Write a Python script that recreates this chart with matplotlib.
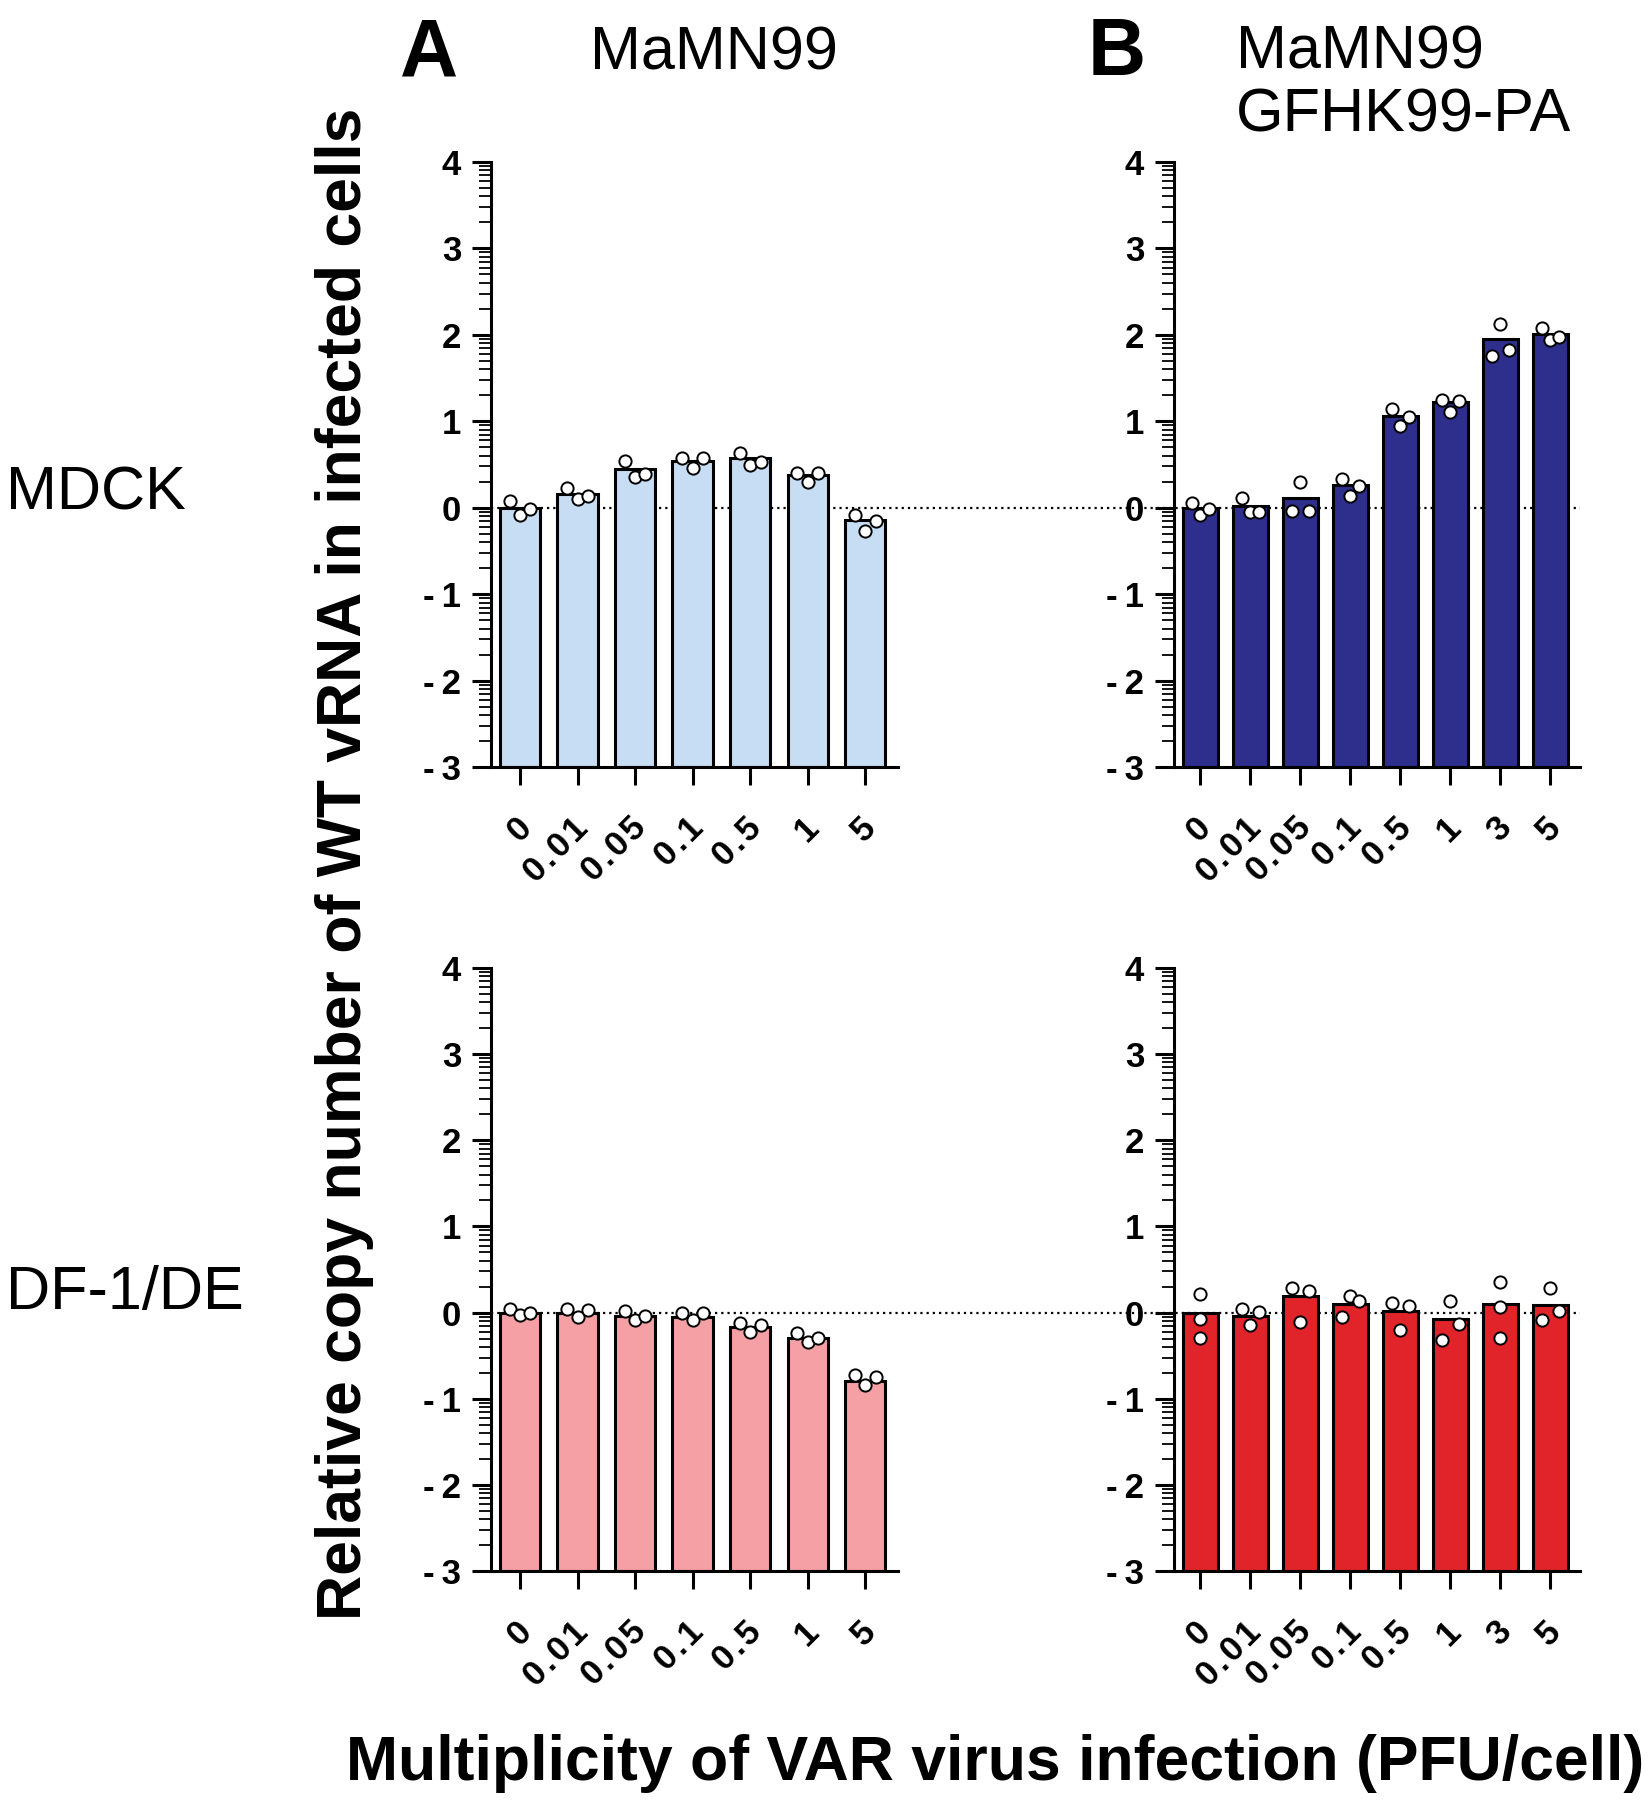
import numpy as np
import matplotlib
matplotlib.use("Agg")
import matplotlib.pyplot as plt
from matplotlib.ticker import FixedLocator
from matplotlib.transforms import blended_transform_factory

plt.rcParams['font.family'] = ['Liberation Sans', 'DejaVu Sans']

# ---------------- data ----------------
moi_A = ['0', '0.01', '0.05', '0.1', '0.5', '1', '5']
moi_B = ['0', '0.01', '0.05', '0.1', '0.5', '1', '3', '5']

mdck_A_bar = [0.00, 0.16, 0.45, 0.54, 0.57, 0.38, -0.14]
mdck_A_pts = [[0.08, -0.09, -0.02], [0.23, 0.10, 0.14], [0.54, 0.35, 0.39],
              [0.58, 0.46, 0.57], [0.63, 0.49, 0.53], [0.40, 0.30, 0.40],
              [-0.08, -0.27, -0.15]]

mdck_B_bar = [0.00, 0.02, 0.11, 0.26, 1.06, 1.22, 1.95, 2.01]
mdck_B_pts = [[0.06, -0.08, -0.02], [0.11, -0.05, -0.05], [-0.04, 0.30, -0.04],
              [0.33, 0.14, 0.25], [1.14, 0.95, 1.05], [1.25, 1.11, 1.23],
              [1.75, 2.12, 1.83], [2.08, 1.94, 1.98]]

df1_A_bar = [0.00, 0.00, -0.04, -0.05, -0.17, -0.29, -0.79]
df1_A_pts = [[0.04, -0.03, -0.01], [0.04, -0.05, 0.03], [0.02, -0.09, -0.04],
             [0.00, -0.09, -0.01], [-0.12, -0.22, -0.15], [-0.24, -0.34, -0.30],
             [-0.73, -0.84, -0.75]]

df1_B_bar = [0.00, -0.04, 0.19, 0.10, 0.02, -0.07, 0.10, 0.09]
df1_B_pts = [[0.21, -0.08, -0.29], [0.04, -0.15, 0.01], [0.29, -0.11, 0.25],
             [-0.05, 0.19, 0.13], [0.11, -0.20, 0.08], [-0.32, 0.14, -0.13],
             [0.35, 0.07, -0.30], [-0.09, 0.28, 0.02]]
# 1 = replicates spread side by side, 0 = replicates stacked on bar centre
df1_B_spread = [0, 1, 1, 1, 1, 1, 0, 1]

y_ticks = [-3, -2, -1, 0, 1, 2, 3, 4]
y_ticklabels = ['-3', '-2', '-1', '0', '1', '2', '3', '4']

col_light_blue = '#C6DDF3'
col_navy = '#2E2F8C'
col_pink = '#F5A0A4'
col_red = '#E0242A'

# ---------------- layout ----------------
W, H = 1651, 1800
fig = plt.figure(figsize=(W / 100, H / 100), dpi=100)


def axes_px(left, top, right, bottom):
    return fig.add_axes([left / W, 1 - bottom / H, (right - left) / W, (bottom - top) / H])


def spaced(s, sep='\u200a'):
    return sep.join(list(s))


LW = 2.2
TFS = 25
minor_pos = [n + np.log10(k) for n in range(-3, 4) for k in range(2, 10)]


def panel(ax, labels, bars, pts, color, xlim, spread=None, jit=0.18):
    x = np.arange(len(labels))
    bars = np.array(bars)
    ax.bar(x, bars + 3, bottom=-3, width=0.7, color=color, edgecolor='black',
           linewidth=LW, zorder=2)
    for i, trip in enumerate(pts):
        s = 1 if spread is None else spread[i]
        offs = np.array([-jit, 0.0, jit]) * s
        ax.plot(x[i] + offs, trip, 'o', mfc='white', mec='black', ms=8.8,
                mew=1.4, zorder=4, clip_on=False)
    ax.set_xlim(*xlim)
    ax.set_ylim(-3, 4)
    for side in ['top', 'right']:
        ax.spines[side].set_visible(False)
    for side in ['left', 'bottom']:
        ax.spines[side].set_linewidth(LW)
    ax.set_yticks(y_ticks)
    ax.set_yticklabels([spaced(t, '\u2009') if t.startswith('-') else t for t in y_ticklabels],
                       fontsize=TFS, fontweight='bold')
    ax.yaxis.set_minor_locator(FixedLocator(minor_pos))
    ax.tick_params(axis='y', which='major', length=13.5, width=LW, pad=8)
    ax.tick_params(axis='y', which='minor', length=8.5, width=1.3)
    ax.set_xticks(x)
    ax.set_xticklabels([])
    ax.tick_params(axis='x', which='major', length=13, width=LW)
    # rotated tick labels anchored at their right end
    fig.canvas.draw()
    bb = ax.get_window_extent()
    px_per_unit = bb.width / (xlim[1] - xlim[0])
    dx = 6 / px_per_unit
    dy = -56 / bb.height
    tr = blended_transform_factory(ax.transData, ax.transAxes)
    for xi, lab in zip(x, labels):
        ax.text(xi + dx, dy, spaced(lab), transform=tr, rotation=45,
                rotation_mode='anchor', ha='right', va='center', fontsize=TFS,
                fontweight='bold', clip_on=False)
    ax.set_facecolor('none')


axA1 = axes_px(491, 162, 898, 767)
axB1 = axes_px(1174, 162, 1580, 767)
axA2 = axes_px(491, 968, 898, 1571)
axB2 = axes_px(1174, 968, 1580, 1571)

panel(axA1, moi_A, mdck_A_bar, mdck_A_pts, col_light_blue, (-0.505, 6.57))
panel(axB1, moi_B, mdck_B_bar, mdck_B_pts, col_navy, (-0.52, 7.6), jit=0.17)
panel(axA2, moi_A, df1_A_bar, df1_A_pts, col_pink, (-0.505, 6.57))
panel(axB2, moi_B, df1_B_bar, df1_B_pts, col_red, (-0.52, 7.6), spread=df1_B_spread, jit=0.17)

# dotted zero line running across both columns
for axl, axr in [(axA1, axB1), (axA2, axB2)]:
    x0 = axl.get_position().x0
    x1 = axr.get_position().x1
    tr = blended_transform_factory(fig.transFigure, axl.transData)
    axl.plot([x0, x1], [0, 0], transform=tr, color='black', lw=1.6,
             linestyle=(0, (1.0, 1.8)), zorder=1, clip_on=False)

# ---------------- texts ----------------
def ftext(x, y, s, **kw):
    fig.text(x / W, 1 - y / H, s, **kw)

ftext(400, 75, 'A', fontsize=58, fontweight='bold', ha='left', va='baseline')
ftext(1088, 75, 'B', fontsize=58, fontweight='bold', ha='left', va='baseline')
ftext(714, 69, 'MaMN99', fontsize=44, ha='center', va='baseline')
ftext(1236, 132, 'MaMN99\nGFHK99-PA', fontsize=44, ha='left', va='baseline',
      linespacing=1.15)
ftext(6, 509, 'MDCK', fontsize=44, ha='left', va='baseline')
ftext(6, 1309, 'DF-1/DE', fontsize=44, ha='left', va='baseline')
ftext(995, 1780, 'Multiplicity of VAR virus infection (PFU/cell)', fontsize=45,
      fontweight='bold', ha='center', va='baseline')
ftext(345, 864, 'Relative copy number of WT vRNA in infected cells', fontsize=45,
      fontweight='bold', ha='center', va='center', rotation=90)

fig.savefig('out.png', dpi=100)
